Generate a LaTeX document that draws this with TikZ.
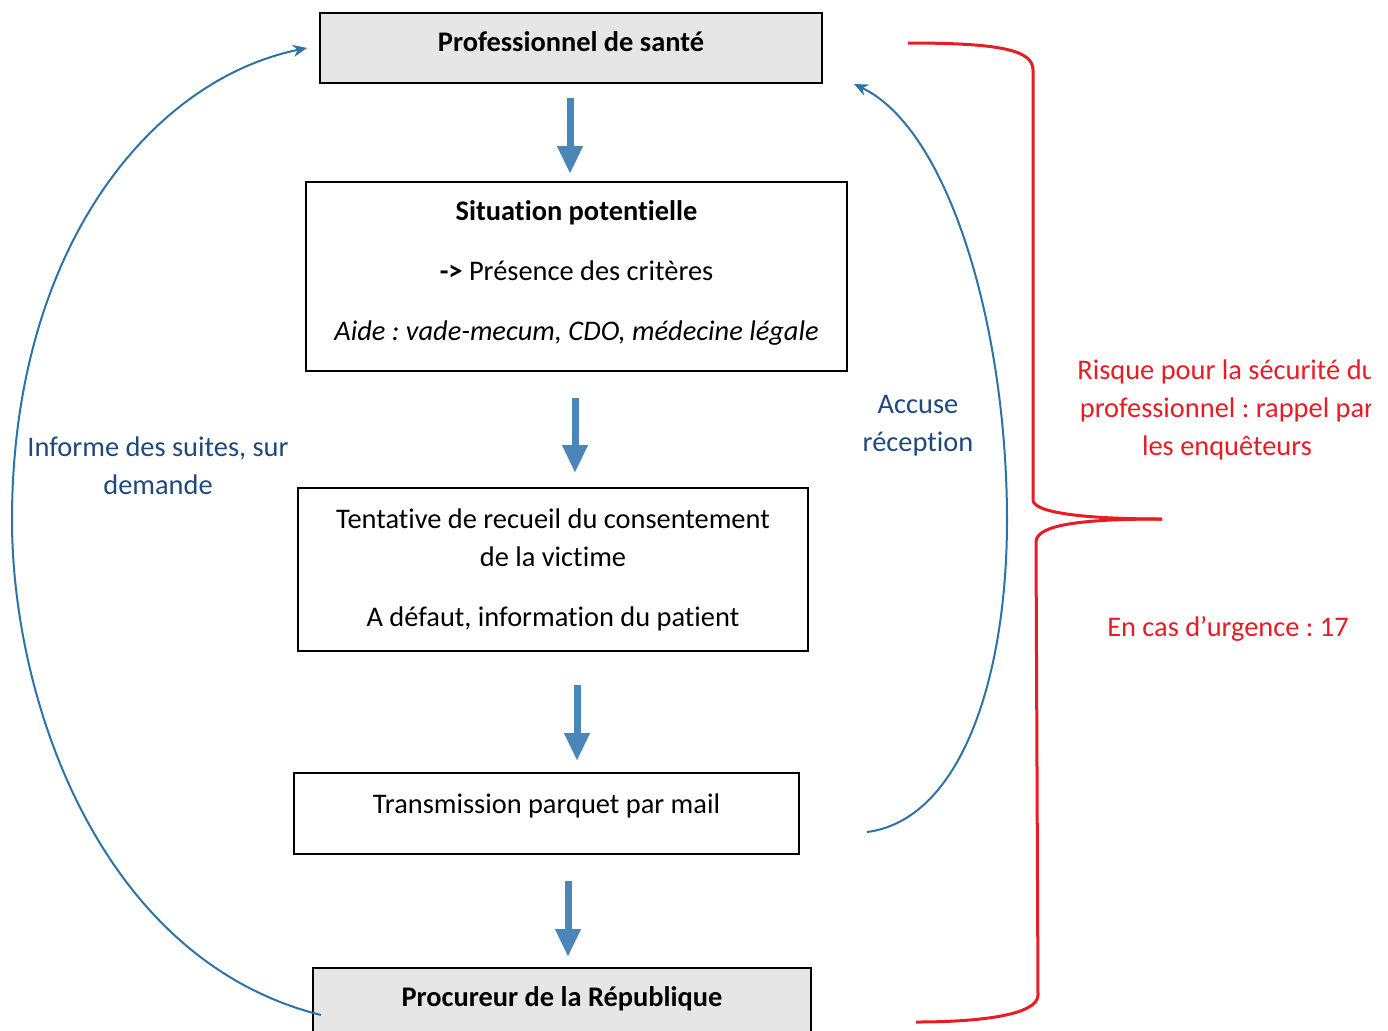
\documentclass[tikz,border=0pt]{standalone}
\usepackage{fontspec}
\setmainfont{Carlito}[Ligatures=NoCommon]
\usetikzlibrary{arrows.meta}
\definecolor{flowblue}{RGB}{74,134,184}
\definecolor{curveblue}{RGB}{45,115,165}
\definecolor{labelblue}{RGB}{31,73,125}
\definecolor{bracered}{RGB}{232,28,36}
\definecolor{boxgray}{RGB}{230,230,230}
\newcommand\mainfs{\fontsize{14.2pt}{19pt}\selectfont}
\frenchspacing
\begin{document}
\begin{tikzpicture}[x=0.5pt,y=-0.5pt,
  box/.style={draw=black, line width=1pt, inner sep=0pt, align=center, font=\mainfs},
  graybox/.style={box, fill=boxgray},
  flow/.style={draw=flowblue, line width=3.5pt, -{Triangle[length=14pt,width=12pt]}},
  curve/.style={draw=curveblue, line width=1pt, -{Stealth[length=7pt,width=6pt]}},
  bluelabel/.style={text=labelblue, align=center, font=\mainfs, inner sep=0pt},
  redlabel/.style={text=bracered, align=center, font=\mainfs, inner sep=0pt},
  brace/.style={draw=bracered, line width=1.5pt}]
\useasboundingbox (0,0) rectangle (1388,1030);
\fill[white] (0,0) rectangle (1388,1030);

\node[graybox, minimum width=251pt, minimum height=35pt, text depth=6pt] (b1) at (571,48) {\textbf{Professionnel de santé}};
\node[box, minimum width=270.5pt, minimum height=94.5pt, text depth=6.3pt] (b2) at (576.5,276.5)
  {\textbf{Situation potentielle}\\[11pt]\textbf{->} Présence des critères\\[11pt]\textit{Aide : vade-mecum, CDO, médecine légale}};
\node[box, minimum width=255pt, minimum height=81.5pt] (b3) at (553,569.5)
  {Tentative de recueil du consentement\\de la victime\\[11pt]A défaut, information du patient};
\node[box, minimum width=252.5pt, minimum height=40.5pt, text depth=10pt] (b4) at (546.5,813.5)
  {Transmission parquet par mail};
\node[graybox, minimum width=249pt, minimum height=35pt, text depth=6pt] (b5) at (562,1003) {\textbf{Procureur de la République}};

\draw[flow] ([xshift=-0.5pt,yshift=-7pt]b1.south) -- ([xshift=-3.25pt,yshift=3.5pt]b2.north);
\draw[flow] ([xshift=-0.75pt,yshift=-13pt]b2.south) -- ([xshift=11pt,yshift=7pt]b3.north);
\draw[flow] ([xshift=12pt,yshift=-16.5pt]b3.south) -- ([xshift=15.25pt,yshift=5.5pt]b4.north);
\draw[flow] ([xshift=10.75pt,yshift=-13pt]b4.south) -- ([xshift=3pt,yshift=5pt]b5.north);

\draw[curve] ([xshift=4.5pt,yshift=-6pt]b5.west) .. controls (100,960) and (12,700) .. (12,520)
  .. controls (12,250) and (150,80) .. ([xshift=-6pt]b1.west);
\draw[curve] ([xshift=33.5pt,yshift=-9.25pt]b4.east) .. controls (960,820) and (1007,680) .. (1007,520)
  .. controls (1007,330) and (950,130) .. ([xshift=15.5pt]b1.south east);

\node[bluelabel] (l1) at (158,466) {Informe des suites, sur\\demande};
\node[bluelabel] (l2) at (918,426) {Accuse\\réception};

\draw[brace] (908,43) .. controls (1000,43) and (1033,50) .. (1033,70) -- (1033,500)
  .. controls (1033,512) and (1080,519) .. (1162,519);
\draw[brace] (1162,519) .. controls (1080,519) and (1036,525) .. (1036,542) -- (1038,995)
  .. controls (1038,1015) and (980,1022) .. (916,1022);

\begin{scope}
\clip (1040,300) rectangle (1370,500);
\node[redlabel] (r1) at (1227,410) {Risque pour la sécurité du\\professionnel : rappel par\\les enquêteurs};
\end{scope}
\node[redlabel] (r2) at (1228,629) {En cas d’urgence : 17};
\end{tikzpicture}
\end{document}
